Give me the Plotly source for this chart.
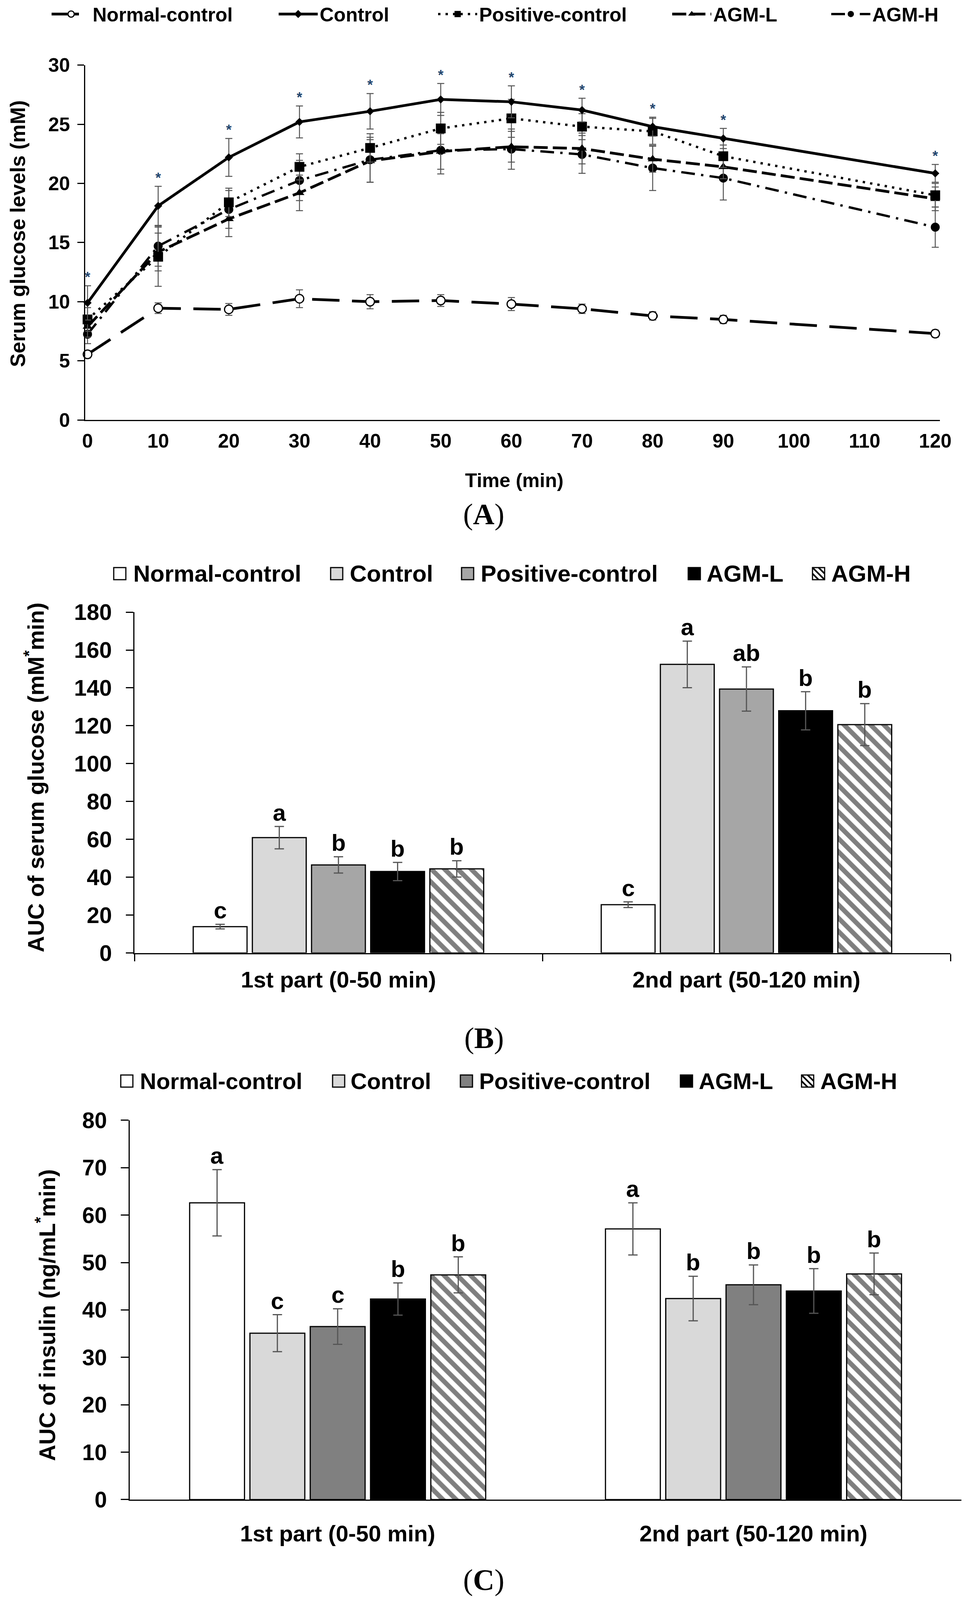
import plotly.graph_objects as go

# ---- canvas ---------------------------------------------------------------
# layout positions below are read off the 2482 x 4446 original; the visible
# page area is shorter, so vertical positions are scaled to fit it.
REF_W, REF_H = 2482, 4446
VISIBLE_H = 4096
PAGE_MARGIN = 8          # default <body> margin of the written page
W = REF_W
H = VISIBLE_H - PAGE_MARGIN
SY = VISIBLE_H / REF_H
SANS = "Liberation Sans, Arial, sans-serif"
SERIF = "Liberation Serif, Times New Roman, serif"

# ---- panel A : serum glucose (mM) over time ------------------------------
time_min = [0, 10, 20, 30, 40, 50, 60, 70, 80, 90, 120]
time_ticks = list(range(0, 121, 10))

normal_glu = [5.55, 9.45, 9.35, 10.25, 10.0, 10.1, 9.8, 9.4, 8.8, 8.5, 7.3]
normal_err = [0.3, 0.45, 0.5, 0.75, 0.6, 0.5, 0.55, 0.4, 0.35, 0.35, 0.3]
control_glu = [9.9, 18.1, 22.2, 25.2, 26.1, 27.1, 26.9, 26.2, 24.8, 23.8, 20.85]
control_err = [1.45, 1.65, 1.6, 1.35, 1.5, 1.35, 1.35, 1.0, 0.8, 0.85, 0.75]
positive_glu = [8.5, 13.8, 18.4, 21.4, 23.0, 24.65, 25.5, 24.8, 24.4, 22.3, 19.0]
positive_err = [1.0, 2.5, 1.2, 1.1, 1.2, 1.35, 1.6, 1.1, 1.1, 0.95, 1.0]
agml_glu = [7.9, 14.2, 17.0, 19.2, 21.9, 22.7, 23.1, 22.95, 22.05, 21.4, 18.7]
agml_err = [0.9, 1.6, 1.5, 1.5, 1.8, 1.5, 1.3, 1.3, 1.1, 1.0, 1.0]
agmh_glu = [7.25, 14.7, 17.8, 20.25, 22.0, 22.8, 22.9, 22.45, 21.3, 20.45, 16.3]
agmh_err = [0.8, 1.7, 1.6, 1.7, 1.9, 2.0, 1.7, 1.6, 1.9, 1.85, 1.7]

# ---- panels B and C : AUC bars -------------------------------------------
groups = ["Normal-control", "Control", "Positive-control", "AGM-L", "AGM-H"]
parts = ["1st part (0-50 min)", "2nd part (50-120 min)"]

auc_glu = [[13.9, 25.5], [60.9, 152.4], [46.5, 139.4], [43.0, 127.9], [44.4, 120.6]]
auc_glu_err = [[1.2, 1.5], [5.9, 12.3], [4.3, 11.7], [4.8, 10.1], [4.3, 11.1]]
auc_glu_letters = [["c", "c"], ["a", "a"], ["b", "ab"], ["b", "b"], ["b", "b"]]

auc_ins = [[62.6, 57.1], [35.1, 42.4], [36.5, 45.3], [42.3, 44.0], [47.4, 47.6]]
auc_ins_err = [[7.0, 5.5], [3.9, 4.7], [3.75, 4.2], [3.4, 4.7], [3.8, 4.4]]
auc_ins_letters = [["a", "a"], ["c", "b"], ["c", "b"], ["b", "b"], ["b", "b"]]

# ---- styling --------------------------------------------------------------
BARGAP, GROUPGAP = 0.275, 0.09
ERR_GRAY = "#555555"
bar_fill = {
    "b": ["white", "#d9d9d9", "#a6a6a6", "black", "white"],
    "c": ["white", "#d9d9d9", "#808080", "black", "white"],
}


def px_x(x):
    return (x - PAGE_MARGIN) / W


def px_y(y):
    return 1 - (y * SY - PAGE_MARGIN) / H


fig = go.Figure()

# panel A lines ------------------------------------------------------------
line_series = [
    ("Normal-control", normal_glu, normal_err, "70px,32px", 7,
     dict(symbol="circle", size=22, color="white", line=dict(color="black", width=3))),
    ("AGM-H", agmh_glu, agmh_err, "35px,16px,6px,16px", 6,
     dict(symbol="circle", size=23, color="black")),
    ("AGM-L", agml_glu, agml_err, "36px,13px", 7,
     dict(symbol="triangle-up", size=22, color="black")),
    ("Positive-control", positive_glu, positive_err, "6px,13px", 6,
     dict(symbol="square", size=25, color="black")),
    ("Control", control_glu, control_err, "solid", 7,
     dict(symbol="diamond", size=16, color="black")),
]
legend_a_text_x = {"Normal-control": 237, "Control": 818, "Positive-control": 1226,
                   "AGM-L": 1825, "AGM-H": 2232}
order_a = ["Normal-control", "Control", "Positive-control", "AGM-L", "AGM-H"]

for name, ys, es, dash, lw, mk in line_series:
    li = order_a.index(name) + 1
    fig.add_trace(go.Scatter(
        x=time_min, y=ys, name=name, mode="lines+markers",
        line=dict(color="black", width=lw, dash=dash), marker=mk,
        error_y=dict(type="data", array=es, color=ERR_GRAY, thickness=2.5, width=9),
        xaxis="x", yaxis="y", cliponaxis=False,
        legend="legend" if li == 1 else f"legend{li}"))

# significance marks above the Control curve
fig.add_trace(go.Scatter(
    x=time_min, y=[v + e for v, e in zip(control_glu, control_err)],
    mode="text", text=["*"] * len(time_min), textposition="top center",
    textfont=dict(family=SANS, size=36, color="#23466e"),
    showlegend=False, xaxis="x", yaxis="y", cliponaxis=False))

# panels B and C bars --------------------------------------------------------
for panel, vals, errs, ax in (("b", auc_glu, auc_glu_err, "2"),
                              ("c", auc_ins, auc_ins_err, "3")):
    for k, g in enumerate(groups):
        pattern = dict(shape="\\", fgcolor="black", bgcolor="white", size=24,
                       solidity=0.5) if g == "AGM-H" else None
        fig.add_trace(go.Bar(
            x=parts, y=vals[k], name=g, showlegend=False,
            marker=dict(color=bar_fill[panel][k], line=dict(color="black", width=3),
                        pattern=pattern),
            error_y=dict(type="data", array=errs[k], color=ERR_GRAY, thickness=3, width=12),
            xaxis="x" + ax, yaxis="y" + ax))

# letters above the error bars
annotations = []
shapes = []
slot = (1 - BARGAP) / len(groups)
for vals, errs, letters, ax in ((auc_glu, auc_glu_err, auc_glu_letters, "2"),
                                (auc_ins, auc_ins_err, auc_ins_letters, "3")):
    for k in range(len(groups)):
        for i in range(len(parts)):
            annotations.append(dict(
                x=i - (1 - BARGAP) / 2 + slot * (k + 0.5), y=vals[k][i] + errs[k][i],
                xref="x" + ax, yref="y" + ax, text=letters[k][i], showarrow=False,
                yanchor="bottom", font=dict(family=SANS, size=60, weight="bold", color="black")))


def label(text, x, y, size, angle=0, family=SANS, weight="bold", xanchor="center"):
    annotations.append(dict(text=text, x=px_x(x), y=px_y(y), xref="paper", yref="paper",
                            showarrow=False, textangle=angle, xanchor=xanchor, yanchor="middle",
                            font=dict(family=family, size=size, weight=weight, color="black")))


# legends of the bar panels (box + label per group)
def bar_legend(box_x, text_x, yc, fills, size):
    half = 15.5
    for k, g in enumerate(groups):
        x0, x1 = box_x[k], box_x[k] + 2 * half
        y0, y1 = yc - half / SY, yc + half / SY
        shapes.append(dict(type="rect", xref="paper", yref="paper",
                           x0=px_x(x0), x1=px_x(x1), y0=px_y(y1), y1=px_y(y0),
                           fillcolor=fills[k], line=dict(color="black", width=3)))
        if g == "AGM-H":
            for a, b in (((x0, y0), (x1, y1)), ((x0 + half, y0), (x1, yc)),
                         ((x0, yc), (x0 + half, y1))):
                shapes.append(dict(type="line", xref="paper", yref="paper",
                                   x0=px_x(a[0]), y0=px_y(a[1]), x1=px_x(b[0]), y1=px_y(b[1]),
                                   line=dict(color="black", width=4)))
        label(g, text_x[k], yc, size, xanchor="left")


bar_legend([291, 846, 1181, 1761, 2079], [339, 893, 1228, 1806, 2125], 1594,
           bar_fill["b"], 60)
bar_legend([309, 851, 1178, 1741, 2051], [356, 895, 1224, 1786, 2097], 3004,
           bar_fill["c"], 58)

# titles and panel labels
label("Serum glucose levels (mM)", 46, 650, 53, -90)
label("Time (min)", 1316, 1335, 50)
label("(<b>A</b>)", 1238, 1429, 76, family=SERIF, weight="normal")
label("AUC of serum glucose (mM<sup>*</sup>min)", 88, 2160, 58, -90)
label("(<b>B</b>)", 1238, 2885, 76, family=SERIF, weight="normal")
label("AUC of insulin (ng/mL<sup>*</sup>min)", 116, 3655, 58, -90)
label("(<b>C</b>)", 1238, 4390, 76, family=SERIF, weight="normal")

# axes -----------------------------------------------------------------------
axis_common = dict(showline=True, linecolor="black", linewidth=3, showgrid=False,
                   zeroline=False, tickcolor="black", tickwidth=3)

layout = dict(
    width=W, height=H, margin=dict(l=0, r=0, t=0, b=0, autoexpand=False),
    paper_bgcolor="white", plot_bgcolor="white",
    barmode="group", bargap=BARGAP, bargroupgap=GROUPGAP,
    font=dict(family=SANS, weight="bold", color="black"),
    annotations=annotations, shapes=shapes,
    xaxis=dict(axis_common, domain=[px_x(218), px_x(2405)], range=[-0.33, 120.66],
               tickvals=time_ticks, ticks="", ticklabelstandoff=8,
               tickfont=dict(size=50, weight="bold"), anchor="y"),
    yaxis=dict(axis_common, domain=[px_y(1167), px_y(181)], range=[0, 30], dtick=5,
               ticks="outside", ticklen=17, ticklabelstandoff=9,
               tickfont=dict(size=50, weight="bold"), anchor="x"),
    xaxis2=dict(axis_common, domain=[px_x(344), px_x(2432)], range=[-0.5, 1.5],
                ticks="outside", tickson="boundaries", ticklen=18, ticklabelstandoff=16,
                tickfont=dict(size=58, weight="bold"), anchor="y2"),
    yaxis2=dict(axis_common, domain=[px_y(2648), px_y(1701)], range=[0, 180], dtick=20,
                ticks="outside", ticklen=19, ticklabelstandoff=24,
                tickfont=dict(size=58, weight="bold"), anchor="x2"),
    xaxis3=dict(axis_common, domain=[px_x(332), px_x(2460)], range=[-0.5, 1.5],
                ticks="", ticklabelstandoff=34,
                tickfont=dict(size=58, weight="bold"), anchor="y3"),
    yaxis3=dict(axis_common, domain=[px_y(4167), px_y(3113)], range=[0, 80], dtick=10,
                ticks="outside", ticklen=20, ticklabelstandoff=24,
                tickfont=dict(size=57, weight="bold"), anchor="x3"),
)

# one legend per line series so every item sits where the original has it
for n, name in enumerate(order_a, start=1):
    key = "legend" if n == 1 else f"legend{n}"
    layout[key] = dict(x=px_x(legend_a_text_x[name] - 110), y=px_y(39), xanchor="left",
                       yanchor="middle", orientation="h", itemwidth=100,
                       bgcolor="rgba(0,0,0,0)", font=dict(size=50, weight="bold"))

fig.update_layout(**layout)
fig.write_html("out.html")
